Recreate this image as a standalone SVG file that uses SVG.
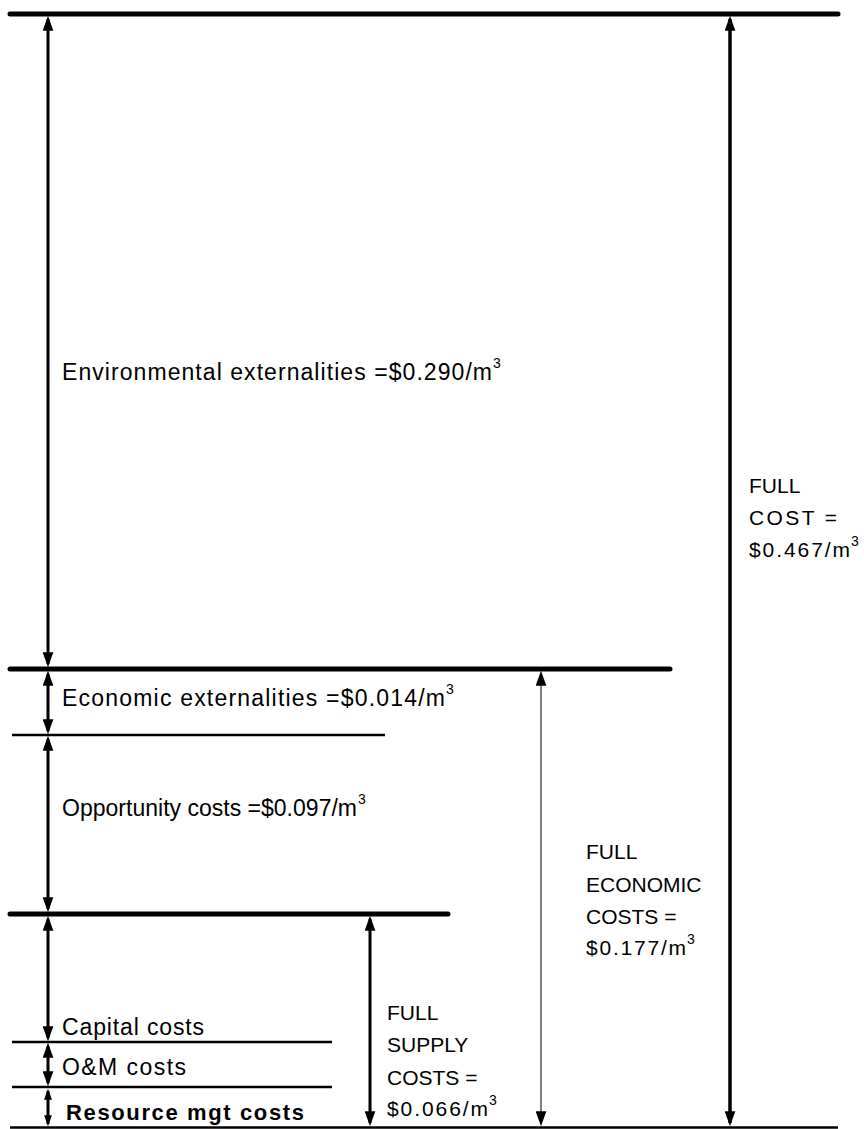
<svg xmlns="http://www.w3.org/2000/svg" width="864" height="1129" viewBox="0 0 864 1129">
<defs>
<style>
text{font-family:"Liberation Sans",Arial,sans-serif;font-size:21px;fill:#000}
.l{font-size:23px}
.b{font-weight:bold;font-size:22px}
.sup{font-size:14px}
.thick{stroke:#000;stroke-width:5;stroke-linecap:round}
.mid{stroke:#000;stroke-width:2.5}
.arr{stroke:#000;stroke-width:3;fill:none}
.arrt{stroke:#000;stroke-width:1;fill:none}
</style>
<marker id="ah" viewBox="0 0 14 10" refX="11" refY="5" markerWidth="15" markerHeight="11" markerUnits="userSpaceOnUse" orient="auto-start-reverse">
<path d="M0,0 L14,5 L0,10 Z" fill="#000"/>
</marker>
<marker id="ahs" viewBox="0 0 14 10" refX="11" refY="5" markerWidth="11" markerHeight="9" markerUnits="userSpaceOnUse" orient="auto-start-reverse">
<path d="M0,0 L14,5 L0,10 Z" fill="#000"/>
</marker>
</defs>
<rect width="864" height="1129" fill="#fff"/>
<g id="levels">
<line class="thick" x1="10" y1="14" x2="838" y2="14"/>
<line class="thick" x1="10" y1="669" x2="670" y2="669"/>
<line class="mid" x1="12" y1="735" x2="385" y2="735"/>
<line class="thick" x1="10" y1="914" x2="448" y2="914"/>
<line class="mid" x1="12" y1="1042" x2="332" y2="1042"/>
<line class="mid" x1="12" y1="1087" x2="332" y2="1087"/>
<line class="mid" x1="10" y1="1127.5" x2="838" y2="1127.5"/>
</g>
<g id="connectors">
<path class="arr" d="M48,19 V664" marker-start="url(#ah)" marker-end="url(#ah)"/>
<path class="arr" d="M48,674 V731" marker-start="url(#ah)" marker-end="url(#ah)"/>
<path class="arr" d="M48,739 V909" marker-start="url(#ah)" marker-end="url(#ah)"/>
<path class="arr" d="M48,919 V1038" marker-start="url(#ah)" marker-end="url(#ah)"/>
<path class="arr" d="M48,1046 V1083" marker-start="url(#ah)" marker-end="url(#ah)"/>
<path class="arr" d="M48,1091 V1124" marker-start="url(#ahs)" marker-end="url(#ahs)"/>
<path class="arr" d="M370,919 V1123" marker-start="url(#ah)" marker-end="url(#ah)"/>
<path class="arrt" d="M541,674 V1123" marker-start="url(#ah)" marker-end="url(#ah)"/>
<path class="arr" style="stroke-width:3.5" d="M730,19 V1123" marker-start="url(#ah)" marker-end="url(#ah)"/>
</g>
<g id="env"><text class="l" x="62" y="380" textLength="430" lengthAdjust="spacing">Environmental externalities =$0.290/m</text><text class="sup" x="493" y="368">3</text></g>
<g id="econ"><text class="l" x="62" y="706" textLength="383" lengthAdjust="spacing">Economic externalities =$0.014/m</text><text class="sup" x="446" y="694">3</text></g>
<g id="opp"><text class="l" x="62" y="816" textLength="295" lengthAdjust="spacing">Opportunity costs =$0.097/m</text><text class="sup" x="358" y="804">3</text></g>
<g id="capital"><text class="l" x="62" y="1035" textLength="142" lengthAdjust="spacing">Capital costs</text></g>
<g id="om"><text class="l" x="62" y="1075" textLength="124" lengthAdjust="spacing">O&amp;M costs</text></g>
<g id="resource"><text class="b" x="66" y="1120" textLength="238" lengthAdjust="spacing">Resource mgt costs</text></g>
<g id="fullsupply"><text x="387" y="1020">FULL</text><text x="387" y="1052">SUPPLY</text><text x="387" y="1085">COSTS =</text><text x="387" y="1116" textLength="101" lengthAdjust="spacing">$0.066/m</text><text class="sup" x="489" y="1105">3</text></g>
<g id="fulleconomic"><text x="586" y="859">FULL</text><text x="586" y="892">ECONOMIC</text><text x="586" y="924">COSTS =</text><text x="586" y="955" textLength="100" lengthAdjust="spacing">$0.177/m</text><text class="sup" x="687" y="944">3</text></g>
<g id="fullcost"><text x="749" y="493">FULL</text><text x="749" y="525" textLength="88" lengthAdjust="spacing">COST =</text><text x="749" y="557" textLength="101" lengthAdjust="spacing">$0.467/m</text><text class="sup" x="851" y="546">3</text></g>
</svg>
